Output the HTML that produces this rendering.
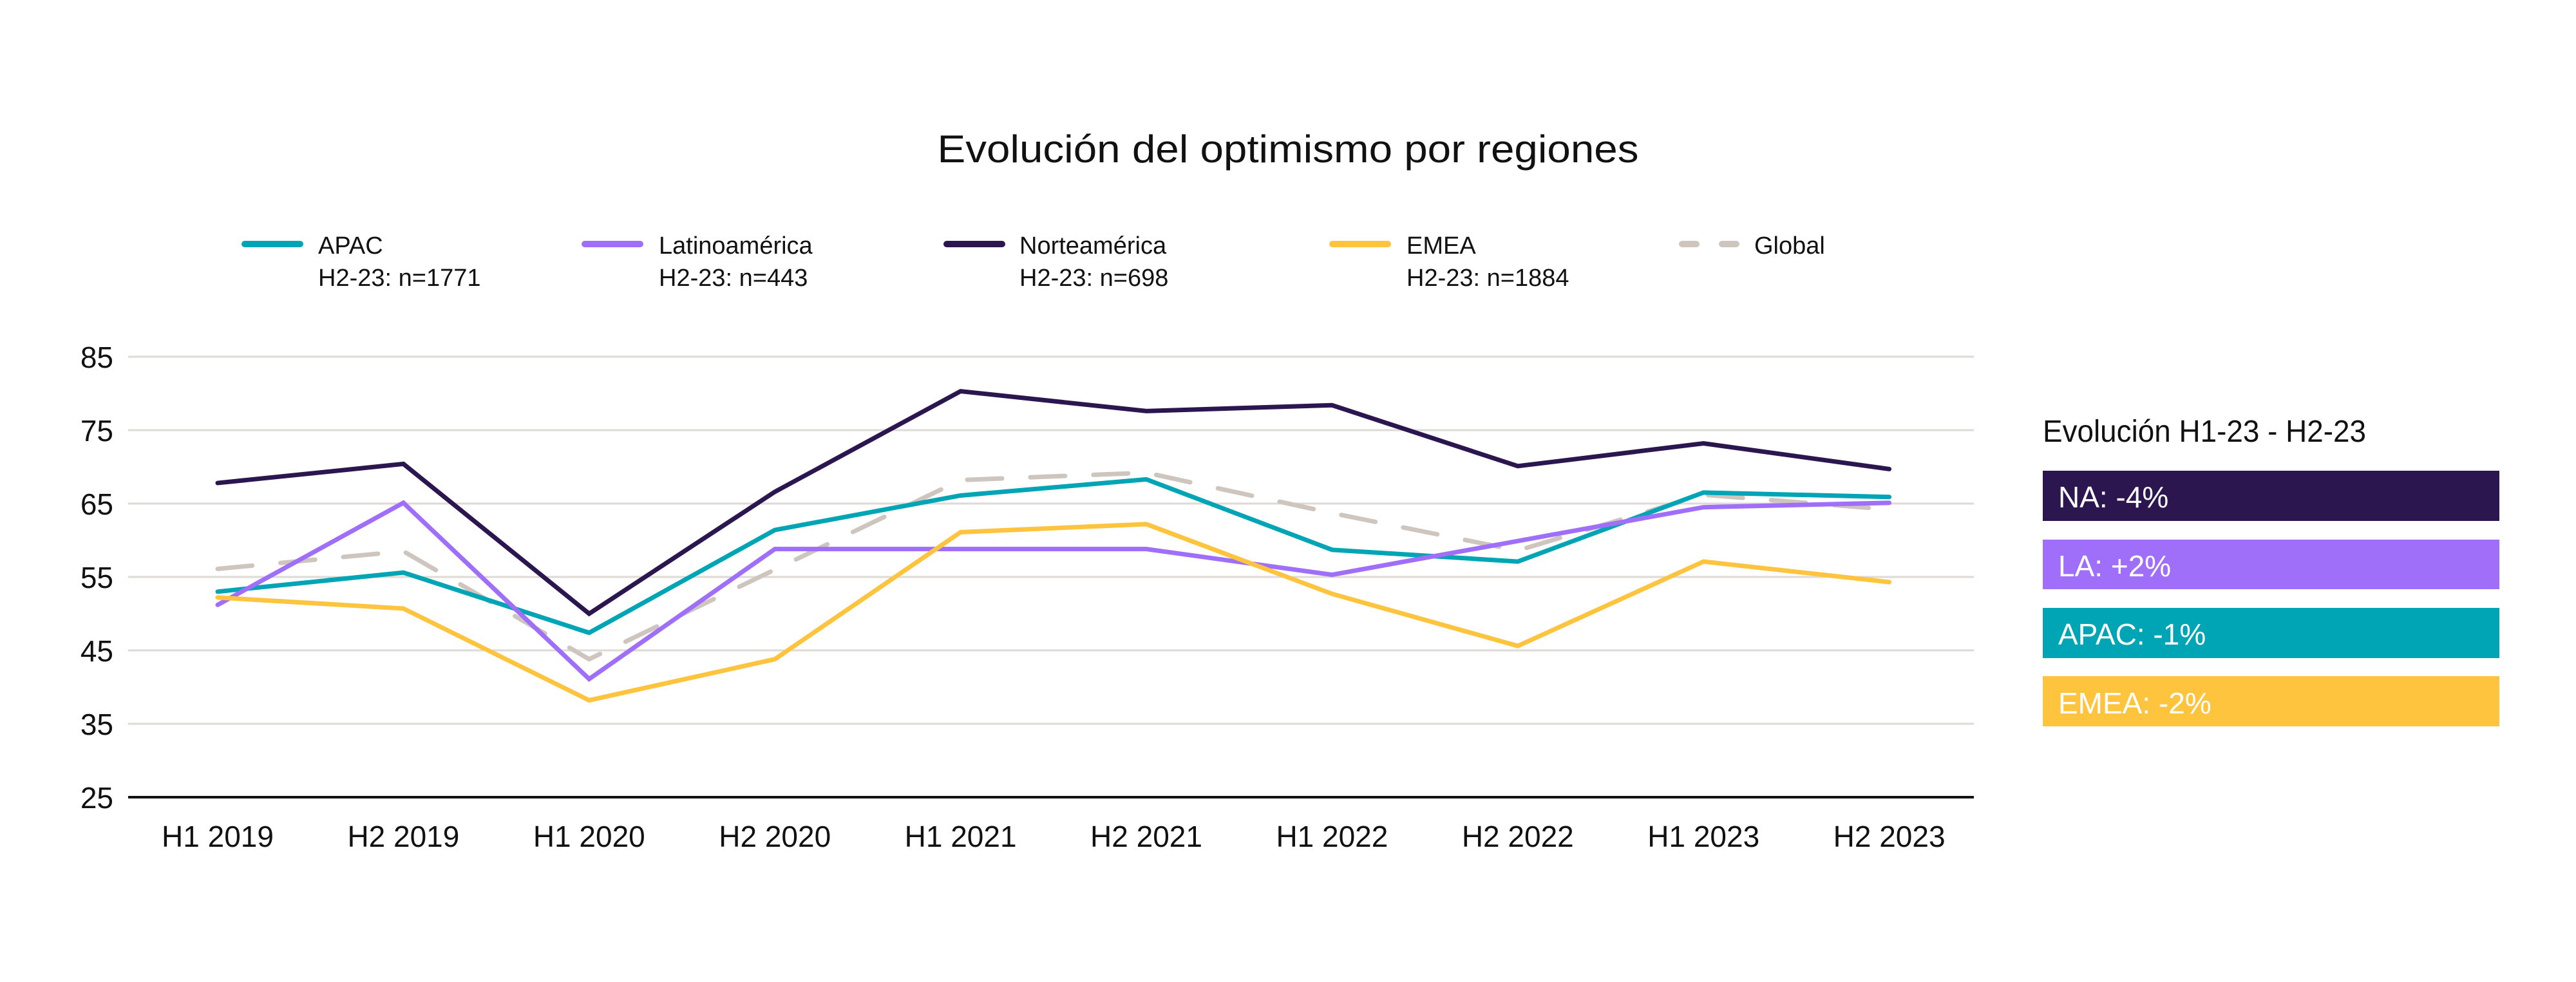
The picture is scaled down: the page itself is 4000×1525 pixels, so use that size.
<!DOCTYPE html>
<html><head><meta charset="utf-8"><style>
html,body{margin:0;padding:0;background:#fff;}
svg{display:block;}
text{font-family:"Liberation Sans",sans-serif;}
</style></head><body>
<svg id="s" width="4000" height="1525" viewBox="0 0 4000 1525" xmlns="http://www.w3.org/2000/svg">
<rect width="4000" height="1525" fill="#fff"/>
<text x="2000" y="252" font-size="60" text-anchor="middle" textLength="1089" lengthAdjust="spacingAndGlyphs" fill="#111">Evolución del optimismo por regiones</text>
<g font-size="38" fill="#111">
<line x1="380" y1="379" x2="466" y2="379" stroke="#00a5b5" stroke-width="10" stroke-linecap="round"/>
<text x="494" y="394">APAC</text><text x="494" y="444">H2-23: n=1771</text>
<line x1="908" y1="379" x2="994" y2="379" stroke="#a06ffa" stroke-width="10" stroke-linecap="round"/>
<text x="1023" y="394">Latinoamérica</text><text x="1023" y="444">H2-23: n=443</text>
<line x1="1470" y1="379" x2="1556" y2="379" stroke="#2c1650" stroke-width="10" stroke-linecap="round"/>
<text x="1583" y="394">Norteamérica</text><text x="1583" y="444">H2-23: n=698</text>
<line x1="2069" y1="379" x2="2155" y2="379" stroke="#ffc43d" stroke-width="10" stroke-linecap="round"/>
<text x="2184" y="394">EMEA</text><text x="2184" y="444">H2-23: n=1884</text>
<line x1="2612" y1="379" x2="2696" y2="379" stroke="#cdc5be" stroke-width="10" stroke-linecap="round" stroke-dasharray="22 40"/>
<text x="2724" y="394">Global</text>
</g>
<g id="grid"></g>
<g id="lines"></g>
<g font-size="46" fill="#111" id="labels"></g>
<text x="3172" y="686" font-size="48" textLength="502" lengthAdjust="spacingAndGlyphs" fill="#111">Evolución H1-23 - H2-23</text>
<rect x="3172" y="731" width="709" height="78" fill="#2c1650"/>
<rect x="3172" y="838" width="709" height="77" fill="#a06ffa"/>
<rect x="3172" y="944" width="709" height="78" fill="#00a5b5"/>
<rect x="3172" y="1050" width="709" height="78" fill="#ffc43d"/>
<g font-size="46" fill="#fff">
<text x="3196" y="788">NA: -4%</text>
<text x="3196" y="895">LA: +2%</text>
<text x="3196" y="1001">APAC: -1%</text>
<text x="3196" y="1108">EMEA: -2%</text>
</g>
</svg>
<script>
var NS="http://www.w3.org/2000/svg";
function Y(v){return 554+(85-v)*11.4;}
function X(i){return 338+288.4*i;}
function el(t,a,p){var e=document.createElementNS(NS,t);for(var k in a)e.setAttribute(k,a[k]);p.appendChild(e);return e;}
var g=document.getElementById('grid'),L=document.getElementById('labels'),ln=document.getElementById('lines');
[85,75,65,55,45,35].forEach(function(v){el('line',{x1:199,x2:3065,y1:Y(v),y2:Y(v),stroke:'#dedad5','stroke-width':3},g);});
[85,75,65,55,45,35,25].forEach(function(v){var t=el('text',{x:176,y:Y(v)+17,'text-anchor':'end'},L);t.textContent=v;});
el('line',{x1:199,x2:3065,y1:Y(25),y2:Y(25),stroke:'#111','stroke-width':4},g);
var cats=['H1 2019','H2 2019','H1 2020','H2 2020','H1 2021','H2 2021','H1 2022','H2 2022','H1 2023','H2 2023'];
cats.forEach(function(c,i){var t=el('text',{x:X(i),y:1315,'text-anchor':'middle'},L);t.textContent=c;});
var S=[
 {c:'#cdc5be',d:[56.1,58.5,43.8,56,68.2,69.2,63.7,58.6,66.2,64.2],dash:'54 44'},
 {c:'#00a5b5',d:[53.0,55.6,47.4,61.4,66.1,68.3,58.7,57.1,66.5,65.9]},
 {c:'#a06ffa',d:[51.2,65.1,41.1,58.8,58.8,58.8,55.3,59.9,64.5,65.1]},
 {c:'#ffc43d',d:[52.2,50.7,38.2,43.8,61.1,62.2,52.7,45.6,57.1,54.3]},
 {c:'#2c1650',d:[67.8,70.4,50.0,66.6,80.3,77.6,78.4,70.1,73.2,69.7]}
];
S.forEach(function(s){var p=s.d.map(function(v,i){return X(i)+','+Y(v);}).join(' ');
 var a={points:p,fill:'none',stroke:s.c,'stroke-width':7,'stroke-linecap':'round','stroke-linejoin':'miter'};
 if(s.dash)a['stroke-dasharray']=s.dash;el('polyline',a,ln);});
</script>
</body></html>
